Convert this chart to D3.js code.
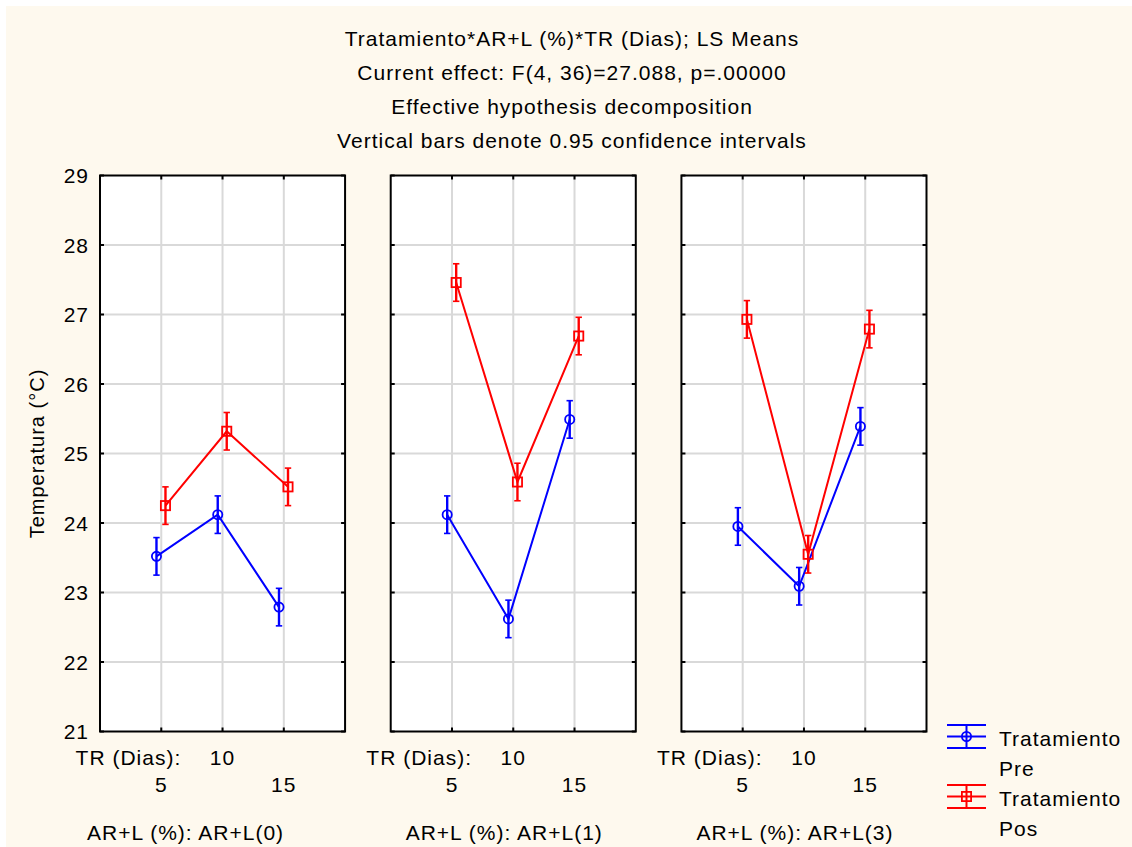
<!DOCTYPE html>
<html>
<head>
<meta charset="utf-8">
<script src="https://cdn.jsdelivr.net/npm/d3@7"></script>
<style>
  html, body { margin: 0; padding: 0; background: #ffffff; }
  svg { display: block; }
  text { font-family: "Liberation Sans", Arial, sans-serif; fill: #000; letter-spacing: 1px; }
</style>
</head>
<body>
<svg id="chart" width="1132" height="847"></svg>
<script>
// ---- data ----
const titleLines = [
  "Tratamiento*AR+L (%)*TR (Dias); LS Means",
  "Current effect: F(4, 36)=27.088, p=.00000",
  "Effective hypothesis decomposition",
  "Vertical bars denote 0.95 confidence intervals"
];
const arlLevels = ["AR+L(0)", "AR+L(1)", "AR+L(3)"];
const trDays = [5, 10, 15];
const yTicks = [21, 22, 23, 24, 25, 26, 27, 28, 29];
const groups = ["Pre", "Pos"];
// LS means per AR+L level (rows) and TR day (columns)
const preMeans = [
  [23.52, 24.12, 22.79],
  [24.12, 22.62, 25.49],
  [23.95, 23.09, 25.39]
];
const posMeans = [
  [24.25, 25.32, 24.52],
  [27.46, 24.59, 26.69],
  [26.93, 23.55, 26.79]
];
// half-width of the 0.95 confidence interval
const ciHalf = [
  [0.27, 0.27, 0.27],
  [0.27, 0.27, 0.27],
  [0.27, 0.27, 0.27]
];

const colors = { Pre: "#0000ff", Pos: "#ff0000" };
const offsets = { Pre: -4.8, Pos: 4.2 };
const FS = 21;

const svg = d3.select("#chart");

// background
svg.append("rect").attr("x", 6).attr("y", 6).attr("width", 1126).attr("height", 841)
  .attr("fill", "#fef9ee");

// titles
svg.append("g").selectAll("text").data(titleLines).join("text")
  .attr("x", 572).attr("y", (d, i) => 45.5 + i * 34)
  .attr("text-anchor", "middle").attr("font-size", FS).text(d => d);

// scales
const panelX = d3.scaleBand().domain(arlLevels).range([100, 926.5]).paddingInner(0.157);
const y = d3.scaleLinear().domain([21, 29]).range([731.5, 175.5]);
const innerX = d3.scalePoint().domain(trDays).range([0, panelX.bandwidth()]).padding(1);

// y axis labels (first panel only)
svg.append("g").selectAll("text").data(yTicks).join("text")
  .attr("x", 89).attr("y", d => y(d) + 7.5)
  .attr("text-anchor", "end").attr("font-size", FS).text(d => d);

svg.append("text")
  .attr("transform", `translate(44, ${(y(21) + y(29)) / 2}) rotate(-90)`)
  .attr("text-anchor", "middle").attr("font-size", 20)
  .text("Temperatura (°C)");

const seriesData = { Pre: preMeans, Pos: posMeans };

arlLevels.forEach((lvl, pi) => {
  const x0 = panelX(lvl);
  const w = panelX.bandwidth();
  const g = svg.append("g").attr("transform", `translate(${x0},0)`);

  g.append("rect").attr("x", 0).attr("y", y(29)).attr("width", w).attr("height", y(21) - y(29))
    .attr("fill", "#ffffff");

  // grid
  g.append("g").selectAll("line").data(yTicks.slice(1, -1)).join("line")
    .attr("x1", 0).attr("x2", w).attr("y1", d => y(d)).attr("y2", d => y(d))
    .attr("stroke", "#d9d9d9").attr("stroke-width", 2);
  g.append("g").selectAll("line").data(trDays).join("line")
    .attr("x1", d => innerX(d)).attr("x2", d => innerX(d))
    .attr("y1", y(29)).attr("y2", y(21))
    .attr("stroke", "#d9d9d9").attr("stroke-width", 2);

  // frame ticks
  const tk = g.append("g").attr("stroke", "#000").attr("stroke-width", 2);
  yTicks.forEach(t => {
    tk.append("line").attr("x1", 0).attr("x2", 4).attr("y1", y(t)).attr("y2", y(t));
    tk.append("line").attr("x1", w - 4).attr("x2", w).attr("y1", y(t)).attr("y2", y(t));
  });
  trDays.forEach(t => {
    tk.append("line").attr("x1", innerX(t)).attr("x2", innerX(t)).attr("y1", y(29)).attr("y2", y(29) + 4);
    tk.append("line").attr("x1", innerX(t)).attr("x2", innerX(t)).attr("y1", y(21) - 4).attr("y2", y(21));
  });

  // frame
  g.append("rect").attr("x", 0).attr("y", y(29)).attr("width", w).attr("height", y(21) - y(29))
    .attr("fill", "none").attr("stroke", "#000").attr("stroke-width", 2);

  // series
  groups.forEach(gr => {
    const vals = seriesData[gr][pi];
    const pts = trDays.map((d, i) => ({ x: innerX(d) + offsets[gr], m: vals[i], h: ciHalf[pi][i] }));
    const col = colors[gr];
    g.append("path").datum(pts)
      .attr("d", d3.line().x(d => d.x).y(d => y(d.m)))
      .attr("fill", "none").attr("stroke", col).attr("stroke-width", 2);
    const eb = g.append("g").attr("stroke", col).attr("stroke-width", 2.4);
    pts.forEach(p => {
      eb.append("line").attr("x1", p.x).attr("x2", p.x).attr("y1", y(p.m + p.h)).attr("y2", y(p.m - p.h));
      eb.append("line").attr("x1", p.x - 3.2).attr("x2", p.x + 3.2).attr("y1", y(p.m + p.h)).attr("y2", y(p.m + p.h)).attr("stroke-width", 1.6);
      eb.append("line").attr("x1", p.x - 3.2).attr("x2", p.x + 3.2).attr("y1", y(p.m - p.h)).attr("y2", y(p.m - p.h)).attr("stroke-width", 1.6);
    });
    pts.forEach(p => {
      if (gr === "Pre") {
        g.append("circle").attr("cx", p.x).attr("cy", y(p.m)).attr("r", 4.6)
          .attr("fill", "none").attr("stroke", col).attr("stroke-width", 1.8);
      } else {
        g.append("rect").attr("x", p.x - 4.6).attr("y", y(p.m) - 4.6).attr("width", 9.2).attr("height", 9.2)
          .attr("fill", "none").attr("stroke", col).attr("stroke-width", 1.8);
      }
    });
  });

  // x labels
  g.append("text").attr("x", innerX(5) + 20).attr("y", 764.5).attr("text-anchor", "end")
    .attr("font-size", FS).text("TR (Dias):");
  g.append("text").attr("x", innerX(10)).attr("y", 764.5).attr("text-anchor", "middle")
    .attr("font-size", FS).text(10);
  [5, 15].forEach(d => {
    g.append("text").attr("x", innerX(d)).attr("y", 791.5).attr("text-anchor", "middle")
      .attr("font-size", FS).text(d);
  });
  const lblShift = [-37, -9, -9][pi];
  g.append("text").attr("x", w / 2 + lblShift).attr("y", 839.5).attr("text-anchor", "middle")
    .attr("font-size", FS).text("AR+L (%): " + lvl);
});

// legend
const legend = svg.append("g");
groups.forEach((gr, i) => {
  const cy = 736.5 + i * 60;
  const col = colors[gr];
  const lg = legend.append("g").attr("stroke", col).attr("stroke-width", 2);
  [-11.5, 0, 11.5].forEach(dy => {
    lg.append("line").attr("x1", 947).attr("x2", 986).attr("y1", cy + dy).attr("y2", cy + dy);
  });
  lg.append("line").attr("x1", 966.5).attr("x2", 966.5).attr("y1", cy - 11.5).attr("y2", cy + 11.5);
  if (gr === "Pre") {
    lg.append("circle").attr("cx", 966.5).attr("cy", cy).attr("r", 4.6).attr("fill", "none").attr("stroke-width", 1.8);
  } else {
    lg.append("rect").attr("x", 961.9).attr("y", cy - 4.6).attr("width", 9.2).attr("height", 9.2).attr("fill", "none").attr("stroke-width", 1.8);
  }
  legend.append("text").attr("x", 999).attr("y", cy + 9.5).attr("font-size", FS).text("Tratamiento");
  legend.append("text").attr("x", 999).attr("y", cy + 39.5).attr("font-size", FS).text(gr);
});
</script>
</body>
</html>
